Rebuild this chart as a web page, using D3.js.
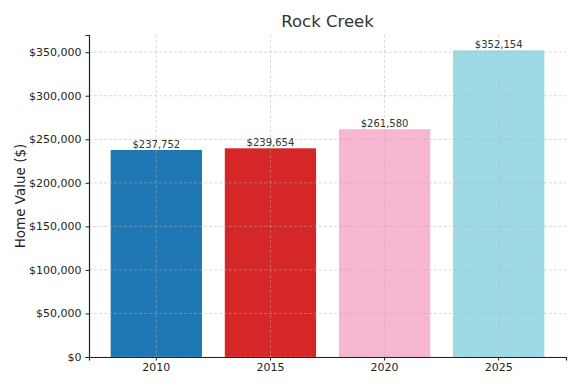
<!DOCTYPE html>
<html>
<head>
<meta charset="utf-8">
<script src="https://cdn.jsdelivr.net/npm/d3@7"></script>
<style>
  body { margin: 0; background: #fff; }
  svg { font-family: "DejaVu Sans", sans-serif; }
</style>
</head>
<body>
<svg id="chart" width="580" height="386"></svg>
<script>
const years = ['2010', '2015', '2020', '2025']
const values = [237752, 239654, 261580, 352154]
const colors = ['#1f77b4', '#d62728', '#f7b6d2', '#9edae5']
const yTicks = [0, 50000, 100000, 150000, 200000, 250000, 300000, 350000]

const width = 580
const height = 386
const margin = { top: 35, right: 14, bottom: 29, left: 89 }

const svg = d3.select('#chart')

const x = d3.scaleBand()
  .domain(years)
  .range([margin.left, width - margin.right])
  .paddingInner(0.2)
  .paddingOuter(0.19)

const y = d3.scaleLinear()
  .domain([0, d3.max(values) * 1.05])
  .range([height - margin.bottom, margin.top])

const fmt = d3.format('$,')

// bars
svg.append('g')
  .selectAll('rect')
  .data(values)
  .join('rect')
  .attr('x', (d, i) => x(years[i]))
  .attr('y', (d) => y(d))
  .attr('width', x.bandwidth())
  .attr('height', (d) => y(0) - y(d))
  .attr('fill', (d, i) => colors[i])

// grid on top of bars
const grid = svg.append('g')
  .attr('stroke', '#b0b0b0')
  .attr('stroke-opacity', 0.6)
  .attr('stroke-width', 0.8)
  .attr('stroke-dasharray', '3,2')
grid.selectAll('.hy')
  .data(yTicks)
  .join('line')
  .attr('x1', margin.left)
  .attr('x2', width - margin.right)
  .attr('y1', (d) => y(d))
  .attr('y2', (d) => y(d))
grid.selectAll('.vx')
  .data(years)
  .join('line')
  .attr('y1', margin.top)
  .attr('y2', height - margin.bottom)
  .attr('x1', (d) => x(d) + x.bandwidth() / 2)
  .attr('x2', (d) => x(d) + x.bandwidth() / 2)

// value labels
svg.append('g')
  .selectAll('text')
  .data(values)
  .join('text')
  .attr('x', (d, i) => x(years[i]) + x.bandwidth() / 2)
  .attr('y', (d) => y(d) - 2)
  .attr('text-anchor', 'middle')
  .attr('font-size', 10)
  .attr('fill', '#333')
  .text((d) => fmt(d))

// axes
const xAxis = d3.axisBottom(x).tickSizeOuter(0).tickSize(3.5).tickPadding(3)
const yAxis = d3.axisLeft(y).tickValues(yTicks).tickFormat(fmt).tickSizeOuter(0).tickSize(3.5).tickPadding(4)

const gx = svg.append('g')
  .attr('transform', `translate(0, ${height - margin.bottom})`)
  .call(xAxis)
const gy = svg.append('g')
  .attr('transform', `translate(${margin.left}, 0)`)
  .call(yAxis)

;[gx, gy].forEach((g) => {
  g.select('.domain').attr('stroke', '#222').attr('stroke-width', 1.2)
  g.selectAll('.tick line').attr('stroke', '#222')
  g.selectAll('.tick text')
    .attr('font-size', 11)
    .attr('fill', '#222')
    .attr('font-family', '"DejaVu Sans", sans-serif')
})

// title and label
svg.append('text')
  .attr('x', (margin.left + width - margin.right) / 2)
  .attr('y', 27)
  .attr('text-anchor', 'middle')
  .attr('font-size', 16.5)
  .attr('fill', '#333')
  .text('Rock Creek')

svg.append('text')
  .attr('transform', `translate(25, ${(margin.top + height - margin.bottom) / 2}) rotate(-90)`)
  .attr('text-anchor', 'middle')
  .attr('font-size', 13.5)
  .attr('fill', '#222')
  .text('Home Value ($)')
</script>
</body>
</html>
